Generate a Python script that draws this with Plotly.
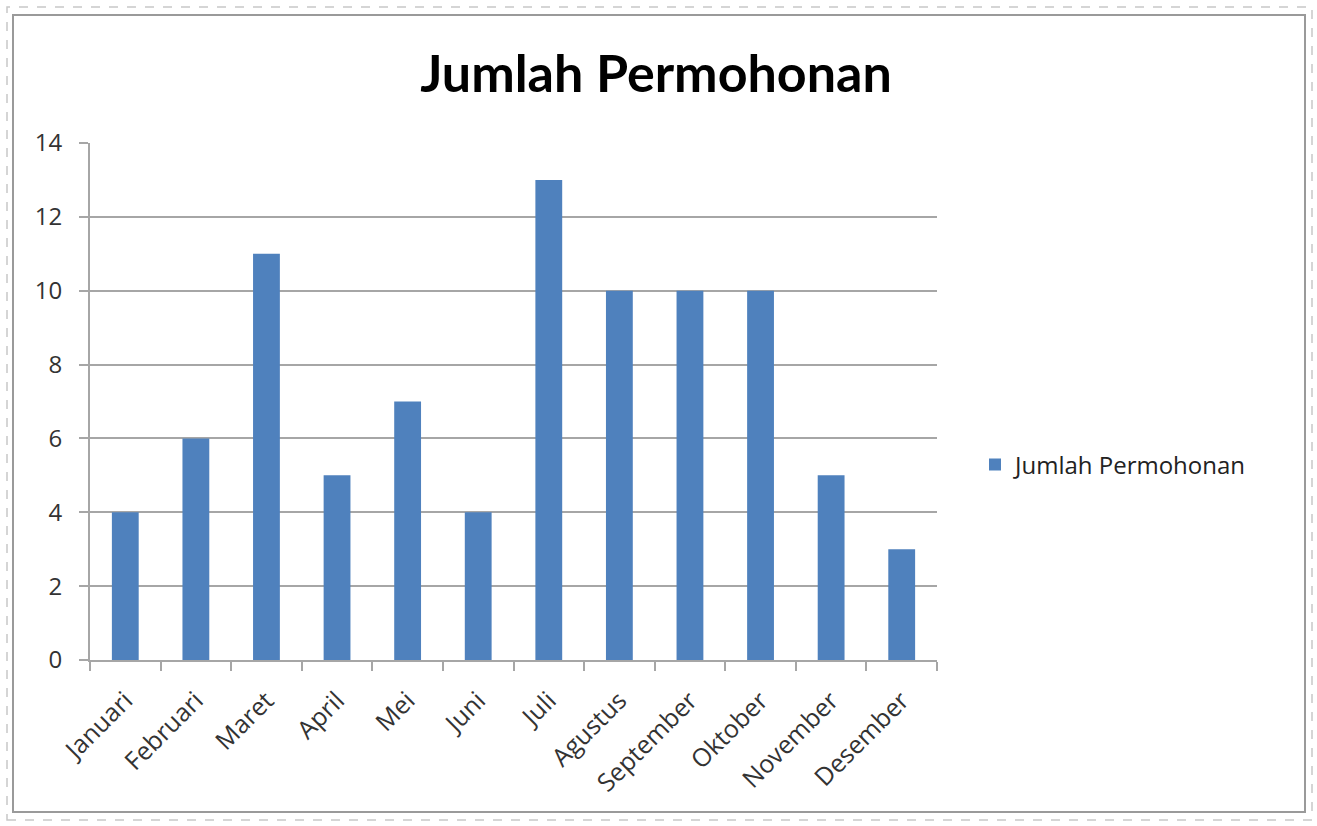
import plotly.graph_objects as go

months = ["Januari", "Februari", "Maret", "April", "Mei", "Juni", "Juli",
          "Agustus", "September", "Oktober", "November", "Desember"]
values = [4, 6, 11, 5, 7, 4, 13, 10, 10, 10, 5, 3]
series_name = "Jumlah Permohonan"
title_text = "Jumlah Permohonan"

W, H = 1317, 826
L, R, T, B = 90, 380, 143, 166
pw, ph = W - L - R, H - T - B

def px_x(p):
    return (p - L) / pw

def px_y(p):
    return (H - B - p) / ph

fig = go.Figure()
fig.add_trace(go.Bar(
    x=months, y=values, name=series_name,
    marker=dict(color="#4F81BD", line=dict(width=0)),
    showlegend=True,
))

tick_font = "Open Sans, sans-serif"
title_font = "Lato, sans-serif"
axis_col = "#A6A6A6"

fig.update_layout(
    width=W, height=H,
    margin=dict(l=L, r=R, t=T, b=B, autoexpand=False),
    paper_bgcolor="white", plot_bgcolor="white",
    bargap=0.62,
    title=dict(text="<b>" + title_text + "</b>", x=px_x(656), xref="paper",
               xanchor="center", y=1 - 74 / H, yanchor="middle",
               font=dict(family=title_font, size=52, color="#000000")),
    font=dict(family=tick_font, color="#404040"),
    showlegend=True,
    legend=dict(x=px_x(975), y=px_y(465), xanchor="left", yanchor="middle",
                font=dict(family=tick_font, size=24, color="#222222"),
                itemwidth=30, bgcolor="rgba(0,0,0,0)"),
    xaxis=dict(
        type="category", tickangle=-45, tickson="boundaries",
        ticks="outside", ticklen=9, tickcolor=axis_col, tickwidth=2,
        showline=True, linecolor=axis_col, linewidth=2,
        showgrid=False, ticklabelstandoff=14,
        tickfont=dict(family=tick_font, size=25, color="#333333"),
    ),
    yaxis=dict(
        range=[0, 14], dtick=2, ticks="outside", ticklen=9,
        tickcolor=axis_col, tickwidth=2,
        showline=True, linecolor=axis_col, linewidth=2,
        showgrid=True, gridcolor=axis_col, gridwidth=2,
        zeroline=False, ticklabelstandoff=12,
        tickfont=dict(family=tick_font, size=24, color="#333333"),
    ),
    shapes=[
        dict(type="rect", xref="paper", yref="paper",
             x0=px_x(7), x1=px_x(1312), y0=px_y(820), y1=px_y(7),
             line=dict(color="#C8C8C8", width=1.5, dash="dash"), layer="below"),
        dict(type="rect", xref="paper", yref="paper",
             x0=px_x(13), x1=px_x(1305), y0=px_y(812), y1=px_y(15),
             line=dict(color="#9A9A9A", width=2), layer="below"),
    ],
)

fig.write_html("out.html", config={"displayModeBar": False},
               post_script="document.body.style.margin='0';document.body.style.overflow='hidden';")
